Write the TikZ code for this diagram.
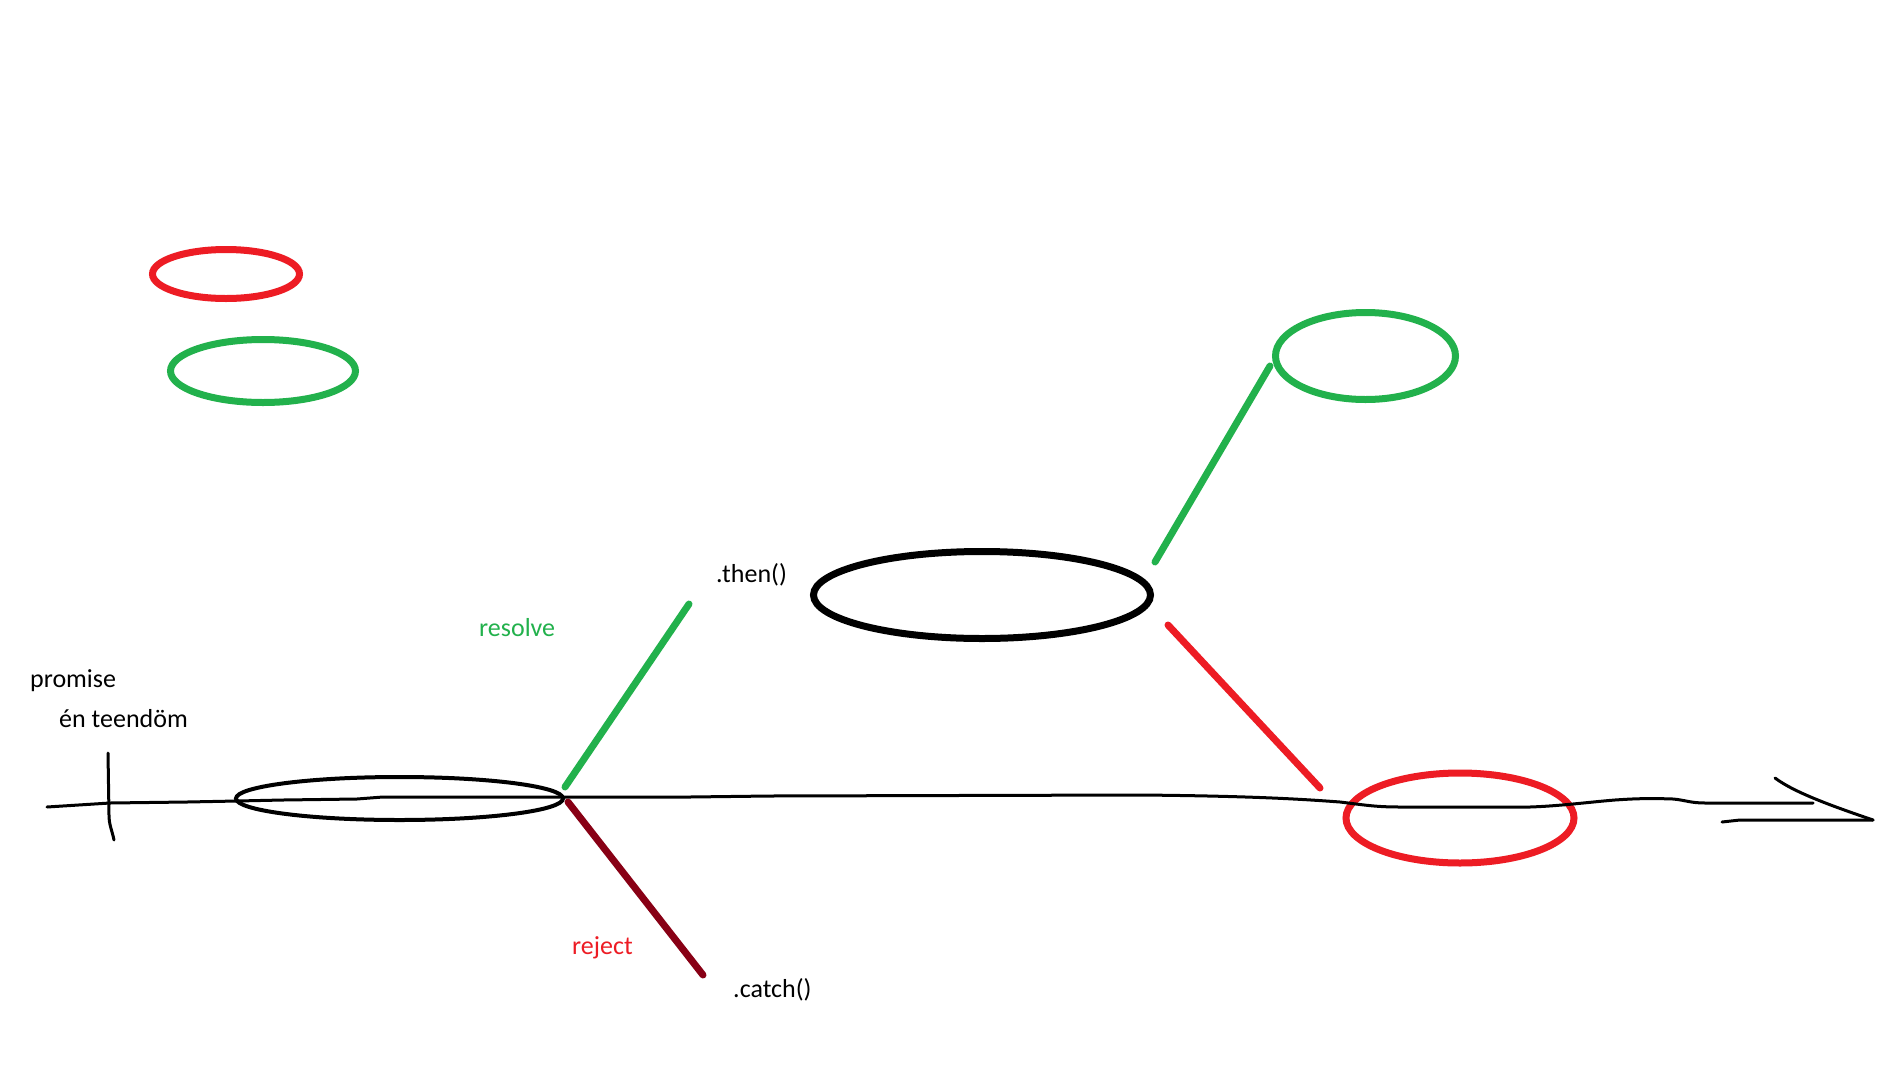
\documentclass[tikz,border=0pt]{standalone}
\usepackage{fontspec}
\setmainfont{Carlito}
\usetikzlibrary{shapes.geometric}
\definecolor{pgreen}{HTML}{22B14C}
\definecolor{pred}{HTML}{ED1C24}
\definecolor{pmaroon}{HTML}{880015}
\tikzset{
  oval/.style={ellipse, draw, inner sep=0pt, line width=7pt},
  label txt/.style={anchor=base west, inner sep=0pt, font=\fontsize{26}{31}\selectfont},
  stroke/.style={line width=7pt, line cap=round},
  axisline/.style={line width=3pt, line cap=round, line join=round}
}
\begin{document}
\begin{tikzpicture}[x=1pt,y=-1pt]
\useasboundingbox[fill=white] (0,0) rectangle (1888,1074);
% ellipses
\node[oval, draw=pred, minimum width=147pt, minimum height=49pt] (redsmall) at (226,274) {};
\node[oval, draw=pgreen, minimum width=185pt, minimum height=63pt] (greensmall) at (263,371) {};
\node[oval, draw=black, minimum width=337pt, minimum height=87pt] (thenoval) at (982,595) {};
\node[oval, draw=pgreen, minimum width=180pt, minimum height=87pt] (greenright) at (1365.5,356) {};
\node[oval, draw=pred, minimum width=228pt, minimum height=90pt] (redright) at (1460,818) {};
\node[ellipse, draw, inner sep=0pt, line width=4pt, minimum width=327pt, minimum height=43pt] (promiseoval) at (399.5,798.5) {};
% axis
\coordinate (axstart) at (47,807);
\coordinate (axend) at (1813,803);
\draw[axisline] (axstart) -- (110,803) -- (187,802) -- (237,801) -- (283,800) -- (357,799) -- (383,797) -- (565,797) -- (690,797) -- (770,796) -- (1140,795)
  .. controls (1250,796) and (1300,799) .. (1340,802)
  .. controls (1365,805) and (1375,807) .. (1400,807) -- (1530,807)
  .. controls (1560,806) and (1590,802) .. (1615,800)
  .. controls (1630,799) and (1645,798) .. (1673,799)
  .. controls (1685,800) and (1690,803) .. (1705,803) -- (axend);
% arrow head
\coordinate (tip) at (1873,820);
\coordinate (headtop) at (1775,778);
\coordinate (headlow) at (1722,822);
\draw[axisline] (headtop) .. controls (1795,793) and (1835,807) .. (tip);
\draw[axisline] (headlow) -- (1740,820) -- (tip);
% tick
\coordinate (ticktop) at (108,753);
\coordinate (tickbot) at (114,840);
\draw[axisline] (ticktop) -- (109,815) .. controls (109,825) and (112,830) .. (tickbot);
% branch lines
\coordinate (resA) at (565,787);
\coordinate (resB) at (689,604);
\coordinate (rejA) at (568,802);
\coordinate (rejB) at (703,975);
\coordinate (gA) at (1155,562);
\coordinate (gB) at (1270,366);
\coordinate (rA) at (1168,625);
\coordinate (rB) at (1320,788);
\draw[stroke, pgreen] (resA) -- (resB);
\draw[stroke, pmaroon] (rejA) -- (rejB);
\draw[stroke, pgreen] (gA) -- (gB);
\draw[stroke, pred] (rA) -- (rB);
% texts
\node[label txt] (promise) at (30,687) {promise};
\node[label txt] (teendo) at (59,727) {én teendöm};
\node[label txt, text=pgreen] (resolve) at (479,636) {resolve};
\node[label txt] (then) at (716,582) {.then()};
\node[label txt, text=pred] (reject) at (572,954) {reject};
\node[label txt] (catch) at (733,997) {.catch()};
\end{tikzpicture}
\end{document}
